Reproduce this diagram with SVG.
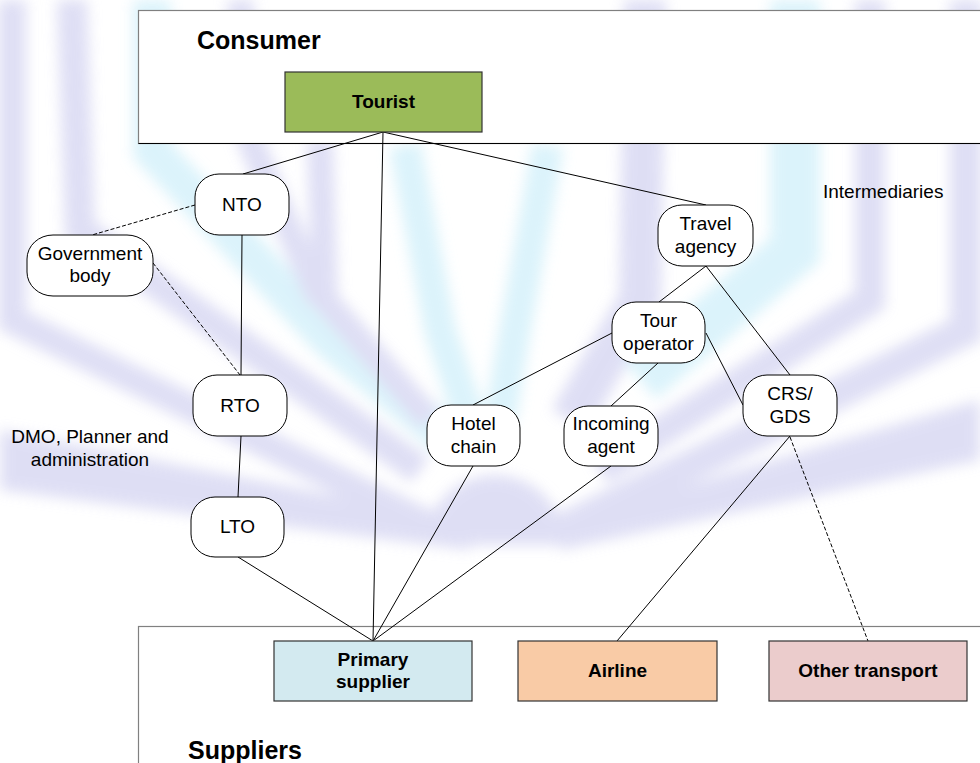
<svg xmlns="http://www.w3.org/2000/svg" width="980" height="763" viewBox="0 0 980 763">
  <defs>
    <filter id="blur" x="-10%" y="-10%" width="120%" height="120%">
      <feGaussianBlur stdDeviation="7"/>
    </filter>
    <style>
      .lav { fill: none; stroke: #d6d6f2; stroke-linejoin: miter; }
      .cya { fill: none; stroke: #d2f0fa; stroke-linejoin: miter; }
      .lavf { fill: #d6d6f2; }
      .container { fill: #ffffff; stroke: #808080; stroke-width: 1.2; }
      .node rect.shape { fill: #ffffff; stroke: #000000; stroke-width: 1; }
      .box { stroke: #333333; stroke-width: 1.2; }
      .lbl { font-family: "Liberation Sans", Arial, sans-serif; font-size: 19px; fill: #000000; text-anchor: middle; }
      .blbl { font-family: "Liberation Sans", Arial, sans-serif; font-size: 19px; font-weight: bold; fill: #000000; text-anchor: middle; }
      .title { font-family: "Liberation Sans", Arial, sans-serif; font-size: 25px; font-weight: bold; fill: #000000; }
      .plain { font-family: "Liberation Sans", Arial, sans-serif; font-size: 19px; fill: #000000; }
      .conn line { stroke: #000000; stroke-width: 1; fill: none; }
      .conn line.dash { stroke-dasharray: 4 2; }
    </style>
  </defs>

  <rect x="0" y="0" width="980" height="763" fill="#ffffff"/>

  <!-- faint background watermark -->
  <g id="watermark" filter="url(#blur)" opacity="0.78">
    <polyline class="lav" stroke-width="28" points="12,0 12,320 440,530"/>
    <polyline class="lav" stroke-width="30" points="72,0 80,230 420,470"/>
    <polyline class="cya" stroke-width="38" points="152,0 152,150 330,340 450,440"/>
    <polyline class="lav" stroke-width="26" points="240,0 250,140 320,300"/>
    <polyline class="lav" stroke-width="26" points="320,140 325,300 430,420"/>
    <polyline class="cya" stroke-width="32" points="405,145 440,330 470,420"/>
    <polyline class="cya" stroke-width="32" points="548,145 515,330 500,420"/>
    <polyline class="lav" stroke-width="42" points="645,0 640,300 570,420"/>
    <polyline class="cya" stroke-width="50" points="795,0 795,250 640,380"/>
    <polyline class="lav" stroke-width="30" points="870,0 870,300 600,470"/>
    <polyline class="lav" stroke-width="32" points="966,0 966,330 560,530"/>
    <path class="lavf" d="M425,545 A70,70 0 0 1 565,545 Z"/>
    <polygon class="lavf" points="0,430 0,490 470,550 470,522"/>
    <polygon class="lavf" points="980,400 980,460 560,550 560,522"/>
  </g>

  <!-- containers -->
  <g id="consumer-area">
    <rect class="container" x="138.5" y="10.5" width="850" height="133"/>
    <line x1="138.5" y1="143.5" x2="980" y2="143.5" stroke="#000000" stroke-width="1.2"/>
    <text class="title" x="197" y="49">Consumer</text>
  </g>
  <g id="suppliers-area">
    <rect class="container" x="138.5" y="626.5" width="850" height="150"/>
    <text class="title" x="188" y="759">Suppliers</text>
  </g>

  <g id="label-intermediaries">
    <text class="plain" x="823" y="198">Intermediaries</text>
  </g>
  <g id="label-dmo">
    <text class="lbl" x="90" y="443">DMO, Planner and</text>
    <text class="lbl" x="90" y="466">administration</text>
  </g>

  <!-- connectors -->
  <g id="connectors" class="conn">
    <line x1="383" y1="132" x2="243" y2="174"/>
    <line x1="383" y1="132" x2="373" y2="641"/>
    <line x1="383" y1="132" x2="706" y2="205"/>
    <line x1="242" y1="235" x2="241" y2="375"/>
    <line class="dash" x1="195" y1="205" x2="92" y2="235"/>
    <line class="dash" x1="153" y1="263" x2="240" y2="375"/>
    <line x1="241" y1="436" x2="238" y2="497"/>
    <line x1="238" y1="557" x2="373" y2="641"/>
    <line x1="473" y1="466" x2="373" y2="641"/>
    <line x1="611" y1="466" x2="373" y2="641"/>
    <line x1="706" y1="266" x2="659" y2="302"/>
    <line x1="706" y1="266" x2="790" y2="375"/>
    <line x1="612" y1="333" x2="473" y2="405"/>
    <line x1="658" y1="363" x2="611" y2="406"/>
    <line x1="706" y1="333" x2="743" y2="405"/>
    <line x1="790" y1="436" x2="617" y2="641"/>
    <line class="dash" x1="790" y1="437" x2="868" y2="641"/>
  </g>

  <!-- nodes -->
  <g id="tourist">
    <rect class="box" x="285" y="72" width="197" height="60" fill="#9bbb59"/>
    <text class="blbl" x="383.5" y="108">Tourist</text>
  </g>

  <g id="nto" class="node">
    <rect class="shape" x="195" y="174" width="94" height="61" rx="24" ry="23"/>
    <text class="lbl" x="242" y="211">NTO</text>
  </g>
  <g id="government-body" class="node">
    <rect class="shape" x="27" y="235" width="126" height="61" rx="26" ry="24"/>
    <text class="lbl" x="90" y="260">Government</text>
    <text class="lbl" x="90" y="282">body</text>
  </g>
  <g id="rto" class="node">
    <rect class="shape" x="193" y="375" width="94" height="61" rx="24" ry="23"/>
    <text class="lbl" x="240" y="412">RTO</text>
  </g>
  <g id="lto" class="node">
    <rect class="shape" x="191" y="497" width="93" height="60" rx="24" ry="23"/>
    <text class="lbl" x="237.5" y="533">LTO</text>
  </g>
  <g id="travel-agency" class="node">
    <rect class="shape" x="658" y="205" width="95" height="61" rx="24" ry="23"/>
    <text class="lbl" x="705.5" y="230">Travel</text>
    <text class="lbl" x="705.5" y="253">agency</text>
  </g>
  <g id="tour-operator" class="node">
    <rect class="shape" x="612" y="302" width="93" height="61" rx="24" ry="23"/>
    <text class="lbl" x="658.5" y="327">Tour</text>
    <text class="lbl" x="658.5" y="350">operator</text>
  </g>
  <g id="crs-gds" class="node">
    <rect class="shape" x="743" y="375" width="94" height="61" rx="24" ry="23"/>
    <text class="lbl" x="790" y="400">CRS/</text>
    <text class="lbl" x="790" y="423">GDS</text>
  </g>
  <g id="hotel-chain" class="node">
    <rect class="shape" x="427" y="405" width="93" height="61" rx="24" ry="23"/>
    <text class="lbl" x="473.5" y="430">Hotel</text>
    <text class="lbl" x="473.5" y="453">chain</text>
  </g>
  <g id="incoming-agent" class="node">
    <rect class="shape" x="564" y="406" width="94" height="60" rx="24" ry="23"/>
    <text class="lbl" x="611" y="430">Incoming</text>
    <text class="lbl" x="611" y="453">agent</text>
  </g>

  <g id="primary-supplier">
    <rect class="box" x="274" y="641" width="198" height="60" fill="#d3eaf0"/>
    <text class="blbl" x="373" y="666">Primary</text>
    <text class="blbl" x="373" y="688">supplier</text>
  </g>
  <g id="airline">
    <rect class="box" x="518" y="641" width="199" height="60" fill="#f9cba6"/>
    <text class="blbl" x="617.5" y="677">Airline</text>
  </g>
  <g id="other-transport">
    <rect class="box" x="769" y="641" width="198" height="60" fill="#ebcccc"/>
    <text class="blbl" x="868" y="677">Other transport</text>
  </g>
</svg>
